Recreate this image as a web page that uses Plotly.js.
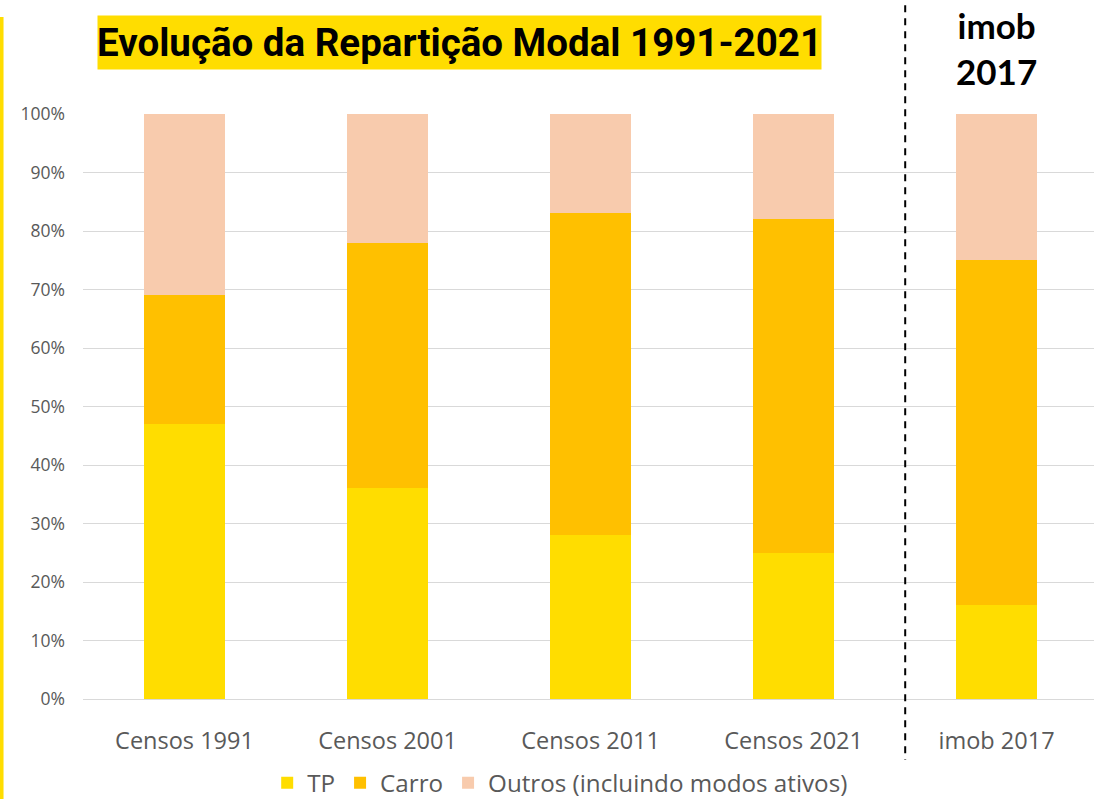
<!DOCTYPE html>
<html>
<head>
<meta charset="utf-8">
<script src="https://cdn.plot.ly/plotly-3.0.1.min.js"></script>
<style>html,body{margin:0;padding:0;background:#fff;}#chart{width:1094px;height:799px;}</style>
</head>
<body>
<div id="chart"></div>
<script>
const categories = ["Censos 1991", "Censos 2001", "Censos 2011", "Censos 2021", "imob 2017"];
const tp = [0.47, 0.36, 0.28, 0.25, 0.16];
const carro = [0.22, 0.42, 0.55, 0.57, 0.59];
const outros = [0.31, 0.22, 0.17, 0.18, 0.25];
const seriesNames = ["TP", "Carro", "Outros (incluindo modos ativos)"];
const colors = ["#FFDD00", "#FFC000", "#F8CBAD"];

const fam = "Open Sans, Noto Sans, sans-serif";
const traces = [tp, carro, outros].map((vals, i) => ({
  type: "bar",
  name: seriesNames[i],
  x: categories,
  y: vals,
  marker: {color: colors[i], line: {width: 0}},
  width: 0.4,
  hoverinfo: "skip"
}));

const layout = {
  width: 1094,
  height: 799,
  margin: {l: 83, r: 0, t: 114, b: 100, autoexpand: false},
  barmode: "stack",
  paper_bgcolor: "#fff",
  plot_bgcolor: "#fff",
  showlegend: true,
  legend: {
    orientation: "h",
    x: 0.472, xanchor: "center",
    y: -0.1436, yanchor: "middle",
    font: {family: fam, size: 24.2, color: "#595959"},
    traceorder: "normal",
    itemwidth: 30
  },
  xaxis: {
    type: "category",
    range: [-0.5, 4.48],
    tickfont: {family: fam, size: 23.5, color: "#595959"},
    showgrid: false,
    zeroline: false,
    showline: false,
    ticks: "",
    ticklabelstandoff: 25
  },
  yaxis: {
    range: [0, 1],
    dtick: 0.1,
    tickformat: ".0%",
    tickfont: {family: fam, size: 17.5, color: "#595959"},
    gridcolor: "#D9D9D9",
    gridwidth: 1,
    zeroline: true,
    zerolinecolor: "#D9D9D9",
    zerolinewidth: 1,
    showline: false,
    ticks: "",
    ticklabelstandoff: 17
  },
  shapes: [
    {type: "line", xref: "x", yref: "paper", x0: 3.55, x1: 3.55, y0: 1.186, y1: -0.104,
     line: {color: "#000", width: 2, dash: "7px,6px"}},
    {type: "rect", xref: "paper", yref: "paper", x0: -0.0821, x1: -0.0786, y0: 1.166, y1: -0.172,
     fillcolor: "#FFDD00", line: {width: 0}}
  ],
  annotations: [
    {text: "<b>Evolução da Repartição Modal 1991-2021</b>", xref: "paper", yref: "paper",
     x: 0.3724, y: 1.123, xanchor: "center", yanchor: "middle", showarrow: false,
     bgcolor: "#FFDD00", borderpad: 0, width: 723, height: 53, align: "center", valign: "middle",
     font: {family: "Roboto, sans-serif", size: 38.5, color: "#000"}},
    {text: "<b>imob<br>2017</b>", xref: "x", yref: "paper", x: 4, y: 1.113,
     xanchor: "center", yanchor: "middle", showarrow: false, borderpad: 0,
     font: {family: "Lato, sans-serif", size: 35, color: "#000"}}
  ]
};

Plotly.newPlot("chart", traces, layout, {displayModeBar: false, staticPlot: true});
</script>
</body>
</html>
